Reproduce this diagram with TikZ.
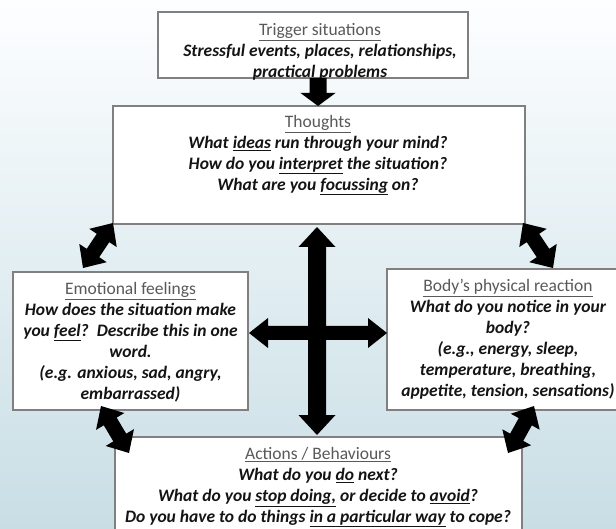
\documentclass[tikz,border=0pt]{standalone}
\usepackage{fontspec}
\setmainfont{Carlito}
\usetikzlibrary{calc}

\definecolor{bgtop}{RGB}{253,254,255}
\definecolor{bgbot}{RGB}{200,222,229}
\definecolor{boxline}{RGB}{128,128,128}
\definecolor{headgray}{RGB}{89,89,89}
\definecolor{bodyink}{RGB}{20,20,20}

% double-headed block arrow: #1 one tip, #2 other tip,
% #3 shaft half-width, #4 head half-width, #5 head length
\newcommand{\twinblock}[5]{%
  \path ($(#1)!#5!(#2)$) coordinate (ha) ($(#2)!#5!(#1)$) coordinate (hb);
  \fill[arrowfill] (#1) -- ($(ha)!#4!90:(#2)$) -- ($(ha)!#3!90:(#2)$)
    -- ($(hb)!#3!-90:(#1)$) -- ($(hb)!#4!-90:(#1)$) -- (#2)
    -- ($(hb)!#4!90:(#1)$) -- ($(hb)!#3!90:(#1)$)
    -- ($(ha)!#3!-90:(#2)$) -- ($(ha)!#4!-90:(#2)$) -- cycle;}
% single-headed block arrow from #1 to #2
\newcommand{\oneblock}[5]{%
  \path ($(#2)!#5!(#1)$) coordinate (hb);
  \fill[arrowfill] ($(#1)!#3!90:(#2)$) -- ($(hb)!#3!-90:(#1)$)
    -- ($(hb)!#4!-90:(#1)$) -- (#2) -- ($(hb)!#4!90:(#1)$)
    -- ($(hb)!#3!90:(#1)$) -- ($(#1)!#3!-90:(#2)$) -- cycle;}

\newcommand{\heading}[1]{{\color{headgray}\mdseries\upshape\underline{#1}}}

\begin{document}
\begin{tikzpicture}[x=1pt,y=-1pt,
  panel/.style={draw=boxline, line width=1.2pt, fill=white, inner sep=0pt},
  arrowfill/.style={fill=black},
  txt/.style={align=center, inner sep=0pt, anchor=north,
    font=\fontsize{17.5}{21}\selectfont\bfseries\itshape, text=bodyink},
]
% backdrop
\shade[top color=bgtop, bottom color=bgbot] (0,0) rectangle (616,529);
\useasboundingbox (0,0) rectangle (616,529);

% panels
\node[panel, minimum width=310pt, minimum height=66pt]  (trigger)  at (313,45) {};
\node[panel, minimum width=412pt, minimum height=118pt] (thoughts) at (319,165) {};
\node[panel, minimum width=235pt, minimum height=138pt] (emotion)  at (130.5,341) {};
\node[panel, minimum width=242pt, minimum height=141pt] (body)     at (508,339.5) {};
\node[panel, minimum width=407pt, minimum height=123pt] (actions)  at (318.5,498.5) {};

% panel texts
\node[txt] (triggerT) at (320,23) {\heading{Trigger situations}\\
  Stressful events, places, relationships,\\ practical problems};
\node[txt] (thoughtsT) at (318,115) {\heading{Thoughts}\\
  What \underline{ideas} run through your mind?\\
  How do you \underline{interpret} the situation?\\
  What are you \underline{focussing} on?};
\node[txt] (emotionT) at (130.5,282) {\heading{Emotional feelings}\\
  How does the situation make\\
  you \underline{feel}?\ \ Describe this in one\\
  word.\\ (e.g. anxious, sad, angry,\\ embarrassed)};
\node[txt] (bodyT) at (508,279) {\heading{Body’s physical reaction}\\
  What do you notice in your\\ body?\\ (e.g., energy, sleep,\\
  temperature, breathing,\\ appetite, tension, sensations)};
\node[txt] (actionsT) at (318,447) {\heading{Actions / Behaviours}\\
  What do you \underline{do} next?\\
  What do you \underline{stop doing,} or decide to \underline{avoid}?\\
  Do you have to do things \underline{in a particular way} to cope?};

% arrow end points
\coordinate (trigOut) at (318,78);
\coordinate (thoIn)   at (318,106);
\coordinate (vTop)    at (317,227);
\coordinate (vBot)    at (317,435);
\coordinate (hLeft)   at (249,333);
\coordinate (hRight)  at (387,333);
\coordinate (tlA) at (113,223);  \coordinate (tlB) at (83,268);
\coordinate (trA) at (523,223);  \coordinate (trB) at (553,268);
\coordinate (blA) at (101,406);  \coordinate (blB) at (129,453);
\coordinate (brA) at (534,406);  \coordinate (brB) at (508,453);

% arrows
\oneblock{trigOut}{thoIn}{8.5pt}{17.5pt}{13pt}
\twinblock{vTop}{vBot}{9pt}{18.5pt}{20pt}
\twinblock{hLeft}{hRight}{7pt}{15pt}{19pt}
\twinblock{tlA}{tlB}{7.5pt}{16.5pt}{18pt}
\twinblock{trA}{trB}{7.5pt}{16.5pt}{18pt}
\twinblock{blA}{blB}{7.5pt}{16.5pt}{18pt}
\twinblock{brA}{brB}{7.5pt}{16.5pt}{18pt}
\end{tikzpicture}
\end{document}
